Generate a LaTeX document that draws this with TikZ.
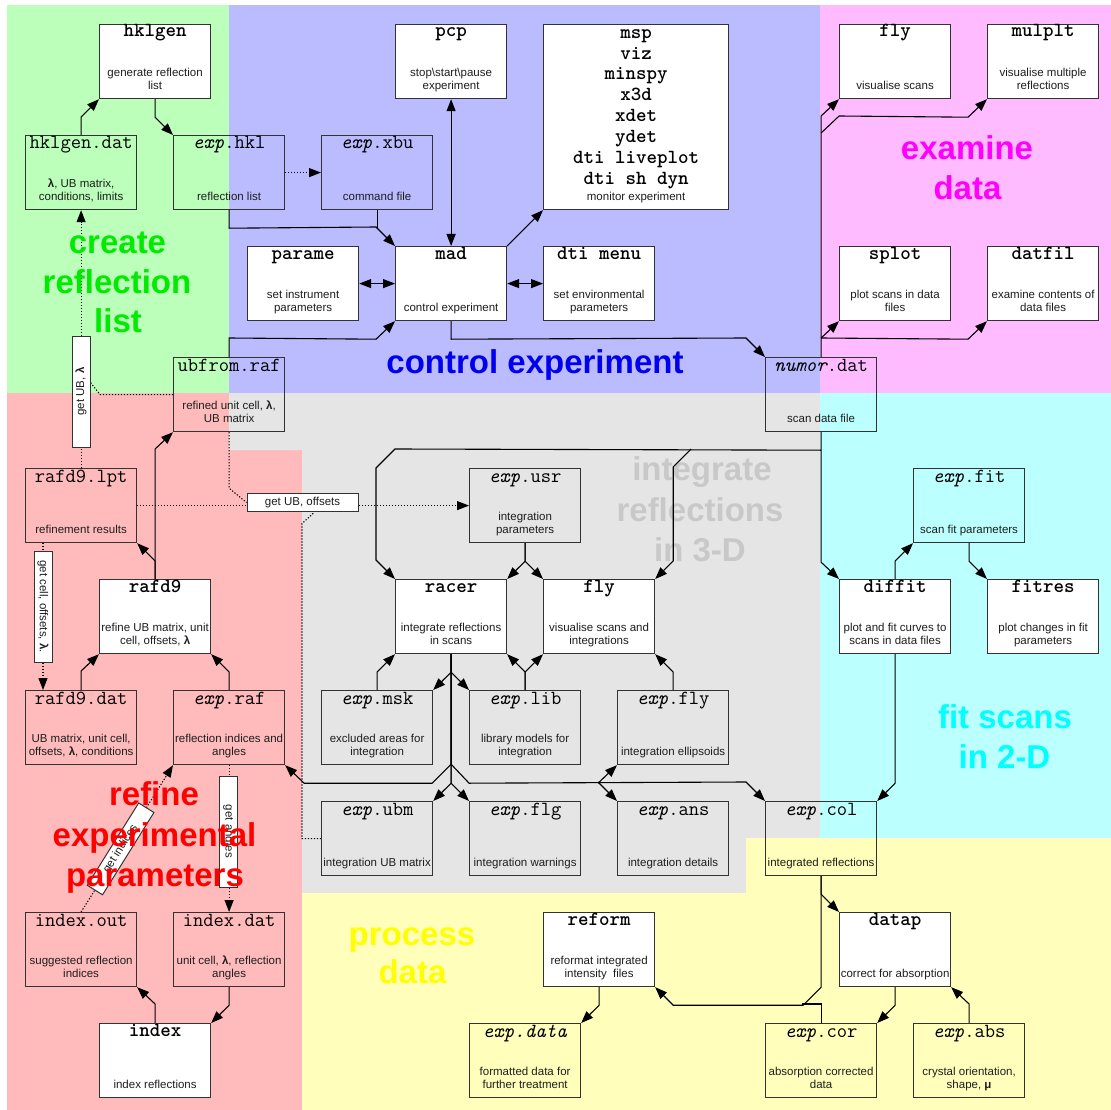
\documentclass[tikz,border=0pt]{standalone}
\usepackage{fontspec}
\setmainfont{Liberation Sans}
\usetikzlibrary{calc,arrows.meta}
\pgfdeclarelayer{back}
\pgfdeclarelayer{lines}
\pgfdeclarelayer{front}
\pgfsetlayers{back,lines,main,front}
\definecolor{cgreen}{RGB}{187,255,187}
\definecolor{cblue}{RGB}{187,187,255}
\definecolor{cpink}{RGB}{255,187,255}
\definecolor{cred}{RGB}{255,187,187}
\definecolor{cgrey}{RGB}{229,229,229}
\definecolor{ccyan}{RGB}{187,255,255}
\definecolor{cyellow}{RGB}{255,255,187}
\definecolor{boxc}{RGB}{50,50,50}
\definecolor{txtc}{RGB}{30,30,30}
\tikzset{
  box/.style={draw=boxc, line width=1.2pt, minimum width=111pt, minimum height=74pt, inner sep=0pt, anchor=north west},
  prog/.style={box, fill=white},
  file/.style={box},
  ptl/.style={font=\fontsize{20}{20.86}\ttfamily\bfseries, anchor=base, inner sep=0pt},
  ftl/.style={font=\fontsize{20}{20.86}\ttfamily, anchor=base, inner sep=0pt},
  dsc/.style={font=\fontsize{11.5}{12.5}\selectfont, align=center, anchor=south, inner sep=0pt, text=txtc},
  arr/.style={line width=1.1pt, -{Triangle[length=12pt,width=9pt]}},
  dbl/.style={line width=1.1pt, {Triangle[length=12pt,width=9pt]}-{Triangle[length=12pt,width=9pt]}},
  ln/.style={line width=1.1pt},
  dot/.style={dash pattern=on 1.2pt off 1.8pt},
  lab/.style={draw=boxc, fill=white, line width=1pt, minimum width=111pt, minimum height=18pt, inner sep=0pt, font=\fontsize{11.5}{12.5}\selectfont, text=txtc},
  rt/.style={font=\fontsize{33}{40}\selectfont\bfseries, anchor=base, inner sep=0pt}
}
\newcommand\mkprog[5]{%
  \node[prog] (#1) at (#2,#3) {};
  \node[ptl] (#1t) at ($(#1.north)+(0,13)$) {#4};
  \node[dsc] (#1d) at ($(#1.south)+(0,-6)$) {#5\strut};
}
\newcommand\mkfile[5]{%
  \node[file] (#1) at (#2,#3) {};
  \node[ftl] (#1t) at ($(#1.north)+(0,14)$) {#4};
  \node[dsc] (#1d) at ($(#1.south)+(0,-6)$) {#5\strut};
}
\begin{document}
\begin{tikzpicture}[x=1pt,y=-1pt]
\useasboundingbox (0,0) rectangle (1111,1110);
\begin{pgfonlayer}{back}
\fill[white] (0,0) rectangle (1111,1110);
\fill[cgreen] (7,5) rectangle (229,393);
\fill[cblue] (229,5) rectangle (820,393);
\fill[cpink] (820,5) rectangle (1111,393);
\fill[cred] (7,393) -- (229,393) -- (229,450) -- (302,450) -- (302,1110) -- (7,1110) -- cycle;
\fill[cgrey] (229,393) -- (820,393) -- (820,838) -- (746,838) -- (746,893) -- (302,893) -- (302,450) -- (229,450) -- cycle;
\fill[ccyan] (820,393) rectangle (1111,838);
\fill[cyellow] (302,893) -- (746,893) -- (746,838) -- (1111,838) -- (1111,1110) -- (302,1110) -- cycle;
\node[rt, text={rgb,255:red,200;green,200;blue,200}] (ti1) at (702,480) {integrate};
\node[rt, text={rgb,255:red,200;green,200;blue,200}] (ti2) at (700,521) {reflections};
\node[rt, text={rgb,255:red,200;green,200;blue,200}] (ti3) at (700,561) {in 3-D};
\end{pgfonlayer}

% programs and files
\mkprog{hklgen}{99}{24}{hklgen}{generate reflection\\list}
\mkprog{pcp}{395}{24}{pcp}{stop\textbackslash start\textbackslash pause\\experiment}
\node[prog, minimum width=185pt, minimum height=185pt] (msp) at (543,24) {};
\node[ptl, anchor=north, align=center] (mspt) at ($(msp.north)+(0,-0.6)$) {\strut msp\\viz\\minspy\\x3d\\xdet\\ydet\\dti liveplot\\dti sh dyn};
\node[dsc] (mspd) at ($(msp.south)+(0,-6)$) {monitor experiment\strut};
\mkprog{flyA}{839}{24}{fly}{visualise scans}
\mkprog{mulplt}{987}{24}{mulplt}{visualise multiple\\reflections}
\mkfile{hklgendat}{25}{135}{hklgen.dat}{\textbf{λ}, UB matrix,\\conditions, limits}
\mkfile{exphkl}{173}{135}{\textit{exp}.hkl}{reflection list}
\mkfile{expxbu}{321}{135}{\textit{exp}.xbu}{command file}
\mkprog{parame}{247}{246}{parame}{set instrument\\parameters}
\mkprog{mad}{395}{246}{mad}{control experiment}
\mkprog{dtimenu}{543}{246}{dti menu}{set environmental\\parameters}
\mkprog{splot}{839}{246}{splot}{plot scans in data\\files}
\mkprog{datfil}{987}{246}{datfil}{examine contents of\\data files}
\mkfile{ubfrom}{173}{357}{ubfrom.raf}{refined unit cell, \textbf{λ},\\UB matrix}
\mkfile{numor}{765}{357}{\textit{numor}.dat}{scan data file}
\mkfile{rafdlpt}{25}{468}{rafd9.lpt}{refinement results}
\mkfile{expusr}{469}{468}{\textit{exp}.usr}{integration\\parameters}
\mkfile{expfit}{913}{468}{\textit{exp}.fit}{scan fit parameters}
\mkprog{rafd}{99}{579}{rafd9}{refine UB matrix, unit\\cell, offsets, \textbf{λ}}
\mkprog{racer}{395}{579}{racer}{integrate reflections\\in scans}
\mkprog{flyB}{543}{579}{fly}{visualise scans and\\integrations}
\mkprog{diffit}{839}{579}{diffit}{plot and fit curves to\\scans in data files}
\mkprog{fitres}{987}{579}{fitres}{plot changes in fit\\parameters}
\mkfile{rafddat}{25}{690}{rafd9.dat}{UB matrix, unit cell,\\offsets, \textbf{λ}, conditions}
\mkfile{expraf}{173}{690}{\textit{exp}.raf}{reflection indices and\\angles}
\mkfile{expmsk}{321}{690}{\textit{exp}.msk}{excluded areas for\\integration}
\mkfile{explib}{469}{690}{\textit{exp}.lib}{library models for\\integration}
\mkfile{expfly}{617}{690}{\textit{exp}.fly}{integration ellipsoids}
\mkfile{expubm}{321}{801}{\textit{exp}.ubm}{integration UB matrix}
\mkfile{expflg}{469}{801}{\textit{exp}.flg}{integration warnings}
\mkfile{expans}{617}{801}{\textit{exp}.ans}{integration details}
\mkfile{expcol}{765}{801}{\textit{exp}.col}{integrated reflections}
\mkfile{indexout}{25}{912}{index.out}{suggested reflection\\indices}
\mkfile{indexdat}{173}{912}{index.dat}{unit cell, \textbf{λ}, reflection\\angles}
\mkprog{reform}{543}{912}{reform}{reformat integrated\\intensity\ \ files}
\mkprog{datap}{839}{912}{datap}{correct for absorption}
\mkprog{index}{99}{1023}{index}{index reflections}
\mkfile{expdata}{469}{1023}{\textit{exp.data}}{formatted data for\\further treatment}
\mkfile{expcor}{765}{1023}{\textit{exp}.cor}{absorption corrected\\data}
\mkfile{expabs}{913}{1023}{\textit{exp}.abs}{crystal orientation,\\shape, \textbf{μ}}

% labels on dotted connectors
\node[lab, rotate=90] (getUBl) at (81,391.5) {get UB, \textbf{λ}};
\node[lab, rotate=-90] (getcell) at (43,606.5) {get cell, offsets, \textbf{λ}.};
\node[lab] (getUBoff) at (302.5,502.5) {get UB, offsets};
\node[lab, rotate=58, minimum width=97pt] (getind) at ($(indexout.north)!0.43!(expraf.south west)$) {get indices};
\node[lab, rotate=-90] (getang) at (228.5,831.5) {get angles};

\begin{pgfonlayer}{lines}
\draw[arr] (hklgendat.north) -- ++(0,-18) -- (hklgen.south west);
\draw[arr] (hklgen.south) -- ++(0,18) -- (exphkl.north west);
\draw[arr,dot] (exphkl.east) -- (expxbu.west);
\draw[arr] (exphkl.south) -- ++(0,18) -- ($(mad.north west)+(-19,-19)$) -- (mad.north west);
\draw[ln] (expxbu.south) -- ++(0,18);
\draw[dbl] (pcp.south) -- (mad.north);
\draw[dbl] (parame.east) -- (mad.west);
\draw[dbl] (mad.east) -- (dtimenu.west);
\draw[arr] (mad.north east) -- (msp.south west);
\draw[arr] (ubfrom.north) -- ++(0,-19) -- ($(mad.south west)+(-19,18)$) -- (mad.south west);
\draw[arr] (mad.south) -- ++(0,18) -- ($(numor.north west)+(-19,-19)$) -- (numor.north west);
\draw[arr] (numor.north) -- ++(0,-241) -- (flyA.south west);
\draw[arr] ($(numor.north)+(0,-224)$) -- ++(18,-17) -- ($(mulplt.south west)+(-19,18)$) -- (mulplt.south west);
\draw[arr] ($(numor.north)+(0,-19)$) -- (splot.south west);
\draw[arr] ($(numor.north)+(0,-19)$) -- ($(datfil.south west)+(-19,18)$) -- (datfil.south west);
\draw[arr] (numor.south) -- ++(0,130) -- (diffit.north west);
\draw[arr] ($(numor.south)+(0,18)$) -- ($(racer.north west)+(0,-130)$) -- ++(-19,19) -- ++(0,92) -- (racer.north west);
\draw[arr] ($(flyB.north east)+(36,-130)$) -- ++(-18,18) -- ++(0,94) -- (flyB.north east);
\draw[arr] (expusr.south) -- ++(0,18) -- (racer.north east);
\draw[arr] (expusr.south) -- ++(0,18) -- (flyB.north west);
\draw[arr,dot] (rafdlpt.east) -- (expusr.west);
\draw[ln,dot] (ubfrom.south) -- ++(0,56) -- (getUBoff.west);
\draw[ln,dot] (expubm.west) -- ++(-19,0) -- ++(0,-315) -- ++(12,-11);
\draw[arr] (rafd.north) -- ++(0,-18) -- (rafdlpt.south east);
\draw[arr] (rafd.north) -- ++(0,-130) -- (ubfrom.south west);
\draw[arr,dot] ($(rafdlpt.south west)+(18,0)$) -- ($(rafddat.north west)+(18,0)$);
\draw[arr] (rafddat.north) -- ++(0,-19) -- (rafd.south west);
\draw[arr] (expraf.north) -- ++(0,-18) -- (rafd.south east);
\draw[arr,dot] (rafdlpt.north) -- (hklgendat.south);
\draw[ln,dot] (ubfrom.west) -- ++(-73,0) -- ($(getUBl.south)+(0,-9)$);
\draw[arr,dot] (indexout.north) -- (expraf.south west);
\draw[arr,dot] (expraf.south) -- (indexdat.north);
\draw[arr] (index.north) -- ++(0,-19) -- (indexout.south east);
\draw[arr] (indexdat.south) -- ++(0,18) -- (index.north east);
\draw[arr] (racer.south) -- ++(0,18) -- (expmsk.north east);
\draw[arr] (racer.south) -- ++(0,18) -- (explib.north west);
\draw[arr] (racer.south) -- ++(0,110) -- ++(-19,19) -- ($(expraf.south east)+(19,18)$) -- (expraf.south east);
\draw[arr] (racer.south) -- ++(0,129) -- (expubm.north east);
\draw[arr] (racer.south) -- ++(0,129) -- (expflg.north west);
\draw[arr] (racer.south) -- ++(0,110) -- ++(18,19) -- ($(expcol.north west)+(-19,-19)$) -- (expcol.north west);
\draw[arr] ($(expfly.south west)+(-19,18)$) -- (expfly.south west);
\draw[arr] ($(expans.north west)+(-19,-19)$) -- (expans.north west);
\draw[arr] (expmsk.north) -- ++(0,-18) -- (racer.south west);
\draw[arr] (explib.north) -- ++(0,-18) -- (racer.south east);
\draw[arr] (explib.north) -- ++(0,-18) -- (flyB.south west);
\draw[arr] (expfly.north) -- ++(0,-18) -- (flyB.south east);
\draw[arr] (diffit.north) -- ++(0,-18) -- (expfit.south west);
\draw[arr] (expfit.south) -- ++(0,18) -- (fitres.north west);
\draw[arr] (diffit.south) -- ++(0,129) -- (expcol.north east);
\draw[arr] (expcol.south) -- ++(0,18) -- (datap.north west);
\draw[arr] (expcol.south) -- ++(0,111) -- ++(-18,18) -- ($(reform.south east)+(18,18)$) -- (reform.south east);
\draw[ln] (expcor.north) -- ++(0,-19) -- ++(-19,0);
\draw[arr] (datap.south) -- ++(0,18) -- (expcor.north east);
\draw[arr] (expabs.north) -- ++(0,-19) -- (datap.south east);
\draw[arr] (reform.south) -- ++(0,18) -- (expdata.north east);
\end{pgfonlayer}

\begin{pgfonlayer}{front}
\node[rt, text={rgb,255:red,0;green,235;blue,0}] (tg1) at (117.5,253) {create};
\node[rt, text={rgb,255:red,0;green,235;blue,0}] (tg2) at (117,293) {reflection};
\node[rt, text={rgb,255:red,0;green,235;blue,0}] (tg3) at (118,332) {list};
\node[rt, text={rgb,255:red,0;green,0;blue,238}] (tb1) at (535,373) {control experiment};
\node[rt, text={rgb,255:red,255;green,0;blue,255}] (tm1) at (967,160) {examine};
\node[rt, text={rgb,255:red,255;green,0;blue,255}] (tm2) at (967.5,200) {data};
\node[rt, text={rgb,255:red,0;green,255;blue,255}] (tc1) at (1005,728) {fit scans};
\node[rt, text={rgb,255:red,0;green,255;blue,255}] (tc2) at (1004.5,768) {in 2-D};
\node[rt, text={rgb,255:red,255;green,255;blue,0}] (ty1) at (412,945) {process};
\node[rt, text={rgb,255:red,255;green,255;blue,0}] (ty2) at (412.5,983) {data};
\node[rt, text={rgb,255:red,255;green,0;blue,0}] (tr1) at (154,805) {refine};
\node[rt, text={rgb,255:red,255;green,0;blue,0}] (tr2) at (154.5,846) {experimental};
\node[rt, text={rgb,255:red,255;green,0;blue,0}] (tr3) at (155,886) {parameters};
\end{pgfonlayer}
\end{tikzpicture}
\end{document}
